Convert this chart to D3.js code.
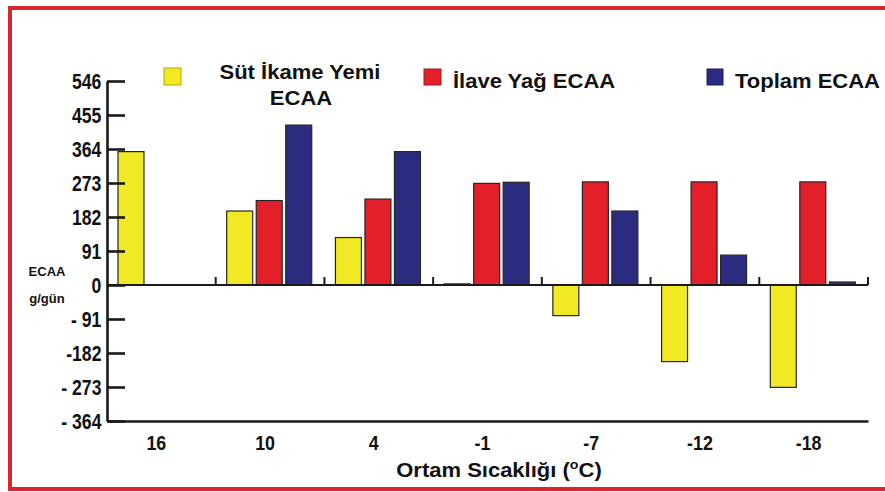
<!DOCTYPE html>
<html>
<head>
<meta charset="utf-8">
<script src="https://cdn.jsdelivr.net/npm/d3@7"></script>
<style>
  html, body { margin: 0; padding: 0; background: #fff; overflow: hidden; }
  svg { display: block; }
  text { font-family: "Liberation Sans", Arial, sans-serif; font-weight: bold; fill: #111; }
</style>
</head>
<body>
<script>
// ---- data ----
const categories = ["16", "10", "4", "-1", "-7", "-12", "-18"];
const sutIkameYemi = [357, 198, 127, 3, -82, -205, -274];
const ilaveYag = [null, 226, 230, 272, 276, 276, 276];
const toplam = [null, 428, 357, 275, 198, 80, 8];
const seriesNames = ["Süt İkame Yemi ECAA", "İlave Yağ ECAA", "Toplam ECAA"];
const yTickValues = [546, 455, 364, 273, 182, 91, 0, -91, -182, -273, -364];
const yTickLabels = ["546", "455", "364", "273", "182", "91", "0", "- 91", "-182", "- 273", "- 364"];
const xTitle = "Ortam Sıcaklığı (";
const yTitle = ["ECAA", "g/gün"];

const seriesValues = [sutIkameYemi, ilaveYag, toplam];
const colors = ["#f1e923", "#e3202a", "#2b2b80"];
const legendStroke = ["#b5a60e", "#a8161c", "#1c1c5c"];

const W = 885, H = 492;
const svg = d3.select("body").append("svg").attr("width", W).attr("height", H);

// frame (top, left, bottom only; right side is cut off)
svg.append("path").attr("d", "M885,8H10V489H885")
  .attr("fill", "none").attr("stroke", "#d8262d").attr("stroke-width", 4);

const x = d3.scaleBand().domain(categories).range([107, 868]);
const xs = d3.scaleBand().domain([0, 1, 2]).range([11, 96]).paddingInner(0.12);
const y = d3.scaleLinear().domain([-364, 546]).range([421, 81]);

// bars
seriesValues.forEach((vals, si) => {
  svg.append("g").selectAll("rect")
    .data(vals.map((v, i) => ({ v, c: categories[i] })).filter(d => d.v !== null))
    .join("rect")
    .attr("x", d => x(d.c) + xs(si))
    .attr("width", xs.bandwidth())
    .attr("y", d => y(Math.max(d.v, 0)))
    .attr("height", d => Math.abs(y(d.v) - y(0)))
    .attr("fill", colors[si])
    .attr("stroke", "#262626")
    .attr("stroke-width", 1.2);
});

// zero line + boundary ticks
svg.append("line").attr("x1", 107).attr("x2", 868).attr("y1", y(0)).attr("y2", y(0))
  .attr("stroke", "#1a1a1a").attr("stroke-width", 2);
svg.append("g").selectAll("line").data(categories).join("line")
  .attr("x1", d => x(d) + x.bandwidth()).attr("x2", d => x(d) + x.bandwidth())
  .attr("y1", y(0)).attr("y2", y(0) - 8)
  .attr("stroke", "#1a1a1a").attr("stroke-width", 2);

// y axis
const yAxis = svg.append("g").attr("transform", "translate(107,0)")
  .call(d3.axisLeft(y).tickValues(yTickValues)
    .tickFormat((d, i) => yTickLabels[i]).tickSize(-18).tickSizeOuter(0).tickPadding(7));
yAxis.select(".domain").attr("stroke", "#1a1a1a").attr("stroke-width", 2.6);
yAxis.selectAll(".tick line").attr("stroke", "#1a1a1a").attr("stroke-width", 2.6);
yAxis.selectAll(".tick text")
  .attr("font-size", 22).attr("font-family", "Liberation Sans, Arial, sans-serif")
  .attr("font-weight", "bold").attr("fill", "#111")
  .attr("transform", "scale(0.8,1)");

// x axis
const xAxis = svg.append("g").attr("transform", "translate(0,421)")
  .call(d3.axisBottom(x).tickSize(0).tickSizeOuter(0).tickPadding(14));
xAxis.select(".domain").attr("stroke", "#1a1a1a").attr("stroke-width", 2.6);
xAxis.selectAll(".tick text")
  .attr("font-size", 21).attr("font-family", "Liberation Sans, Arial, sans-serif")
  .attr("font-weight", "bold").attr("fill", "#111")
  .attr("transform", "translate(-5,0) scale(0.85,1)");

// y title
svg.append("text").attr("x", 47).attr("y", 276).attr("text-anchor", "middle")
  .attr("font-size", 13).text(yTitle[0]);
svg.append("text").attr("x", 47).attr("y", 303).attr("text-anchor", "middle")
  .attr("font-size", 13).text(yTitle[1]);

// x title
const xt = svg.append("g").attr("transform", "translate(499,477) scale(1.1,1)")
  .append("text").attr("text-anchor", "middle").attr("font-size", 20);
xt.append("tspan").text(xTitle);
xt.append("tspan").attr("font-size", 13).attr("dy", -8).text("o");
xt.append("tspan").attr("dy", 8).text("C)");

// legend
const legendBoxes = [[164, 68, 17, 17], [424, 69, 17, 16], [707, 69, 16, 16]];
legendBoxes.forEach((b, i) => {
  svg.append("rect").attr("x", b[0]).attr("y", b[1]).attr("width", b[2]).attr("height", b[3])
    .attr("fill", colors[i]).attr("stroke", legendStroke[i]).attr("stroke-width", 1);
});
const sutWords = seriesNames[0].split(" ");
svg.append("g").attr("transform", "translate(300,79) scale(1.1,1)")
  .append("text").attr("text-anchor", "middle").attr("font-size", 20)
  .text(sutWords.slice(0, 3).join(" "));
svg.append("g").attr("transform", "translate(301,105) scale(1.1,1)")
  .append("text").attr("text-anchor", "middle").attr("font-size", 20)
  .text(sutWords.slice(3).join(" "));
svg.append("g").attr("transform", "translate(453,88) scale(1.1,1)")
  .append("text").attr("font-size", 20).text(seriesNames[1]);
svg.append("g").attr("transform", "translate(735,88) scale(1.1,1)")
  .append("text").attr("font-size", 20).text(seriesNames[2]);
</script>
</body>
</html>
